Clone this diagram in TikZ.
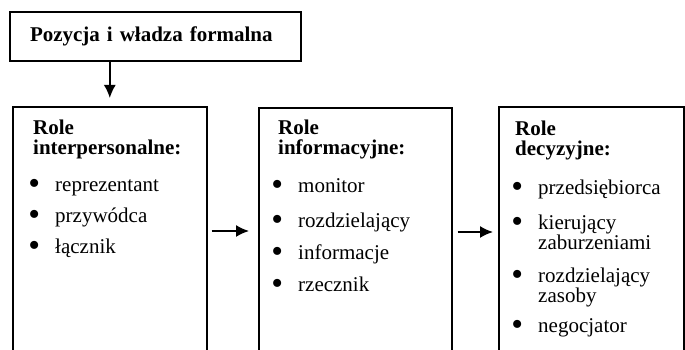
\documentclass[tikz,border=0pt]{standalone}
\usepackage{fontspec}
\setmainfont{Liberation Serif}
\usetikzlibrary{arrows.meta}

\tikzset{
  frame/.style={draw, line width=1.6pt, anchor=north west, inner sep=0pt},
  head/.style={anchor=base west, align=left, inner sep=0pt, font=\fontsize{21}{20}\selectfont\bfseries},
  item/.style={anchor=base west, align=left, inner sep=0pt, font=\fontsize{21}{20}\selectfont},
  arr/.style={-{Latex[length=13pt,width=12pt]}, line width=1.6pt}
}
\newcommand{\bul}{\llap{\raisebox{-2.2pt}{\scalebox{1.6}{\textbullet}}\hspace{15pt}}}

\begin{document}
\begin{tikzpicture}[x=1pt, y=1pt]
		\useasboundingbox (0,0) rectangle (685,350);
		\clip (0,0) rectangle (685,350);
		% Boxes:
		\node[draw, line width=1.6pt, minimum width=291pt, minimum height=49pt, inner xsep=20pt, text width=251pt, align=left, font=\fontsize{21}{20}\selectfont\bfseries] (pos) at (155.5, 313.5) {Pozycja i władza formalna};
		\node[frame, minimum width=194pt, minimum height=300pt] (inter) at (12, 244) {};
		\node[frame, minimum width=193pt, minimum height=300pt] (info) at (258, 243) {};
		\node[frame, minimum width=185pt, minimum height=300pt] (dec) at (498, 244) {};
		% Texts (base = last line):
		\node[head] (h1) at (33, 195) {Role\\interpersonalne:};
		\node[item] (i11) at (55, 158) {\bul reprezentant};
		\node[item] (i12) at (55, 127) {\bul przywódca};
		\node[item] (i13) at (55, 96) {\bul łącznik};
		\node[head] (h2) at (278, 195) {Role\\informacyjne:};
		\node[item] (i21) at (298, 157) {\bul monitor};
		\node[item] (i22) at (298, 122) {\bul rozdzielający};
		\node[item] (i23) at (298, 90) {\bul informacje};
		\node[item] (i24) at (298, 58) {\bul rzecznik};
		\node[head] (h3) at (515, 194) {Role\\decyzyjne:};
		\node[item] (i31) at (538, 155) {\bul przedsiębiorca};
		\node[item] (i32) at (538, 100) {\bul kierujący\\zaburzeniami};
		\node[item] (i33) at (538, 47) {\bul rozdzielający\\zasoby};
		\node[item] (i34) at (538, 17) {\bul negocjator};
		% Arrows:
		\coordinate (a1) at (0, 119);
		\coordinate (a2) at (0, 118);
		\draw[arr, shorten >=8pt] (pos.south -| inter.north) -- (inter.north);
		\draw[arr, shorten <=4pt, shorten >=9pt] (inter.east |- a1) -- (info.west |- a1);
		\draw[arr, shorten <=5pt, shorten >=5pt] (info.east |- a2) -- (dec.west |- a2);
	\end{tikzpicture}
\end{document}
